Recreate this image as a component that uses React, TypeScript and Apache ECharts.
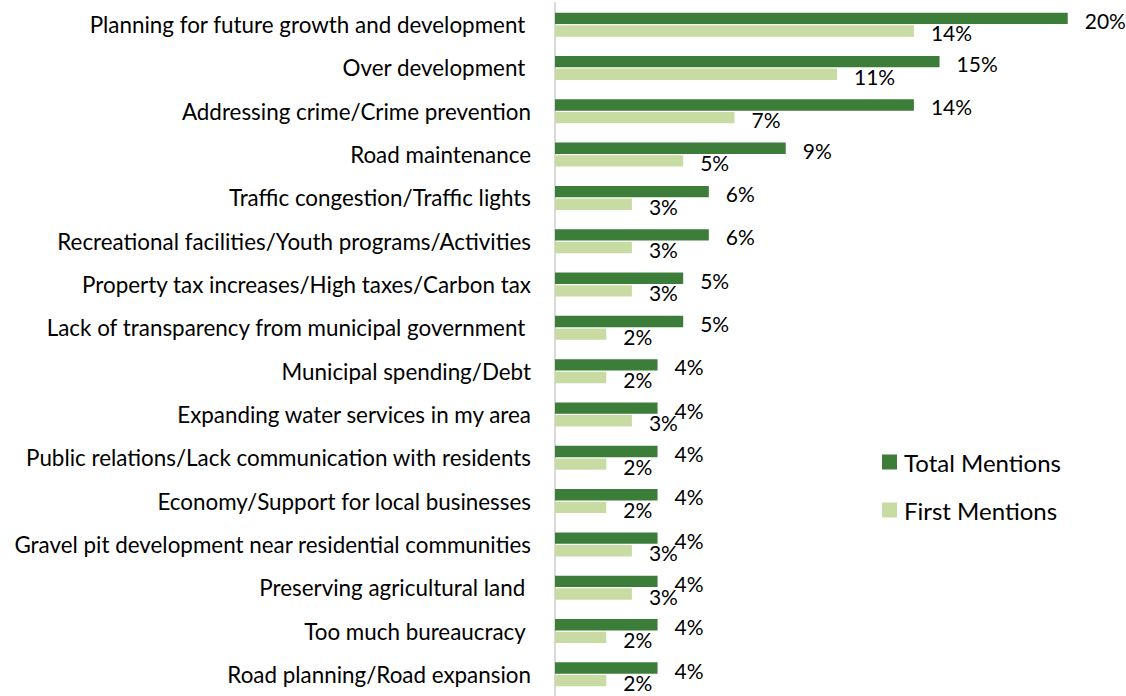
import React, { useEffect, useRef } from "react";
import * as echarts from "echarts";

const categories = [
  "Planning for future growth and development ",
  "Over development ",
  "Addressing crime/Crime prevention",
  "Road maintenance",
  "Traffic congestion/Traffic lights",
  "Recreational facilities/Youth programs/Activities",
  "Property tax increases/High taxes/Carbon tax",
  "Lack of transparency from municipal government ",
  "Municipal spending/Debt",
  "Expanding water services in my area",
  "Public relations/Lack communication with residents",
  "Economy/Support for local businesses",
  "Gravel pit development near residential communities",
  "Preserving agricultural land ",
  "Too much bureaucracy ",
  "Road planning/Road expansion",
];
const totalMentions = [20, 15, 14, 9, 6, 6, 5, 5, 4, 4, 4, 4, 4, 4, 4, 4];
const firstMentions = [14, 11, 7, 5, 3, 3, 3, 2, 2, 3, 2, 2, 3, 3, 2, 2];

const FONT = "Lato";

export default function App() {
  const ref = useRef<HTMLDivElement>(null);
  useEffect(() => {
    const chart = echarts.init(ref.current!, null, { renderer: "svg" });
    const labelStyle = {
      show: true,
      position: "right" as const,
      distance: 17,
      offset: [0, 2],
      formatter: "{c}%",
      fontSize: 21,
      fontFamily: FONT,
      color: "#000",
    };
    chart.setOption({
      animation: false,
      grid: { left: 555, right: 7, top: 3, height: 699 },
      xAxis: { type: "value", min: 0, max: 22, show: false },
      yAxis: {
        type: "category",
        data: categories,
        inverse: true,
        axisLine: { show: true, lineStyle: { color: "#D9D9D9", width: 2 } },
        axisTick: { show: false },
        axisLabel: { margin: 24, fontSize: 22.4, fontFamily: FONT, color: "#000" },
      },
      legend: {
        orient: "vertical",
        left: 877,
        top: 445,
        itemWidth: 15,
        itemHeight: 15,
        itemGap: 24,
        textStyle: {
          fontSize: 24,
          lineHeight: 24,
          fontFamily: FONT,
          color: "#000",
          padding: [0, 0, 0, 2],
        },
        data: [
          { name: "Total Mentions", icon: "rect" },
          { name: "First Mentions", icon: "rect" },
        ],
      },
      series: [
        {
          name: "Total Mentions",
          type: "bar",
          data: totalMentions,
          barWidth: 11.4,
          barGap: "11%",
          itemStyle: { color: "#3D7D3A" },
          label: labelStyle,
        },
        {
          name: "First Mentions",
          type: "bar",
          data: firstMentions,
          barWidth: 11.4,
          itemStyle: { color: "#C8DBA2" },
          label: labelStyle,
        },
      ],
    });
    return () => chart.dispose();
  }, []);
  return (
    <div
      ref={ref}
      style={{ position: "absolute", left: 0, top: 0, width: 1126, height: 696 }}
    />
  );
}
